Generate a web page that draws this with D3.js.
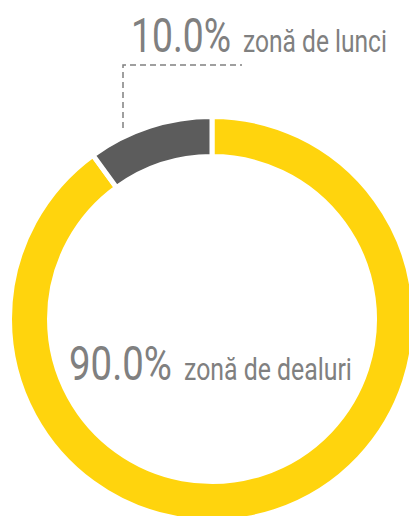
<!DOCTYPE html>
<html>
<head>
<meta charset="utf-8">
<script src="https://cdn.jsdelivr.net/npm/d3@7"></script>
<style>
  html, body { margin: 0; padding: 0; background: #fff; }
  svg text { font-family: Roboto, "DejaVu Sans Condensed", sans-serif; font-weight: 400; fill: #808080; }
</style>
</head>
<body>
<svg id="chart"></svg>
<script>
const categories = ["zonă de dealuri", "zonă de lunci"];
const values = [90, 10];
const colors = ["#ffd40d", "#5c5c5c"];

const width = 409,
    height = 516;
const cx = 212, cy = 319;
const outerR = 202.5, innerR = 162.5;

const svg = d3.select("#chart")
    .attr("width", width)
    .attr("height", height);

const pie = d3.pie().sort(null).value(d => d.value);
const arc = d3.arc().innerRadius(innerR).outerRadius(outerR);

const slices = pie(categories.map((c, i) => ({ name: c, value: values[i], color: colors[i] })));

const g = svg.append("g").attr("transform", `translate(${cx},${cy})`);

g.selectAll("path")
    .data(slices)
    .enter().append("path")
    .attr("d", arc)
    .attr("fill", d => d.data.color)
    .attr("stroke", "#fff")
    .attr("stroke-width", 5);

const fmt = d3.format(".1f");
const total = d3.sum(values);

// text squeezed horizontally to a target width (reference uses a narrow face)
function narrowText(x, y, str, size, w) {
    const t = g.append("text")
        .style("font-size", size + "px")
        .text(str);
    const sx = w / t.node().getComputedTextLength();
    t.attr("transform", `translate(${x},${y}) scale(${sx},1)`);
}

function label(x, y, pct, name, pctW, nameW) {
    narrowText(x, y, fmt(pct) + "%", 49, pctW);
    narrowText(x + pctW + 12, y, name, 31, nameW);
}

// small slice: leader line + label above the ring
const small = slices[1];
const lx = -89, ly1 = -191, ly0 = -254, lx2 = 30;
g.append("path")
    .attr("d", `M${lx},${ly1}V${ly0}H${lx2}`)
    .attr("fill", "none")
    .attr("stroke", "#808080")
    .attr("stroke-width", 1.5)
    .attr("stroke-dasharray", "6,4");

label(lx + 8, -267, small.data.value / total * 100, small.data.name, 100, 144);

// big slice: label in the middle
const big = slices[0];
label(-143, 61, big.data.value / total * 100, big.data.name, 103, 168);
</script>
</body>
</html>
